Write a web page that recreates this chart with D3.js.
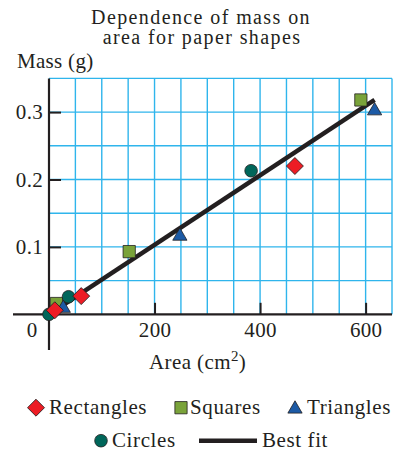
<!DOCTYPE html>
<html>
<head>
<meta charset="utf-8">
<script src="https://cdn.jsdelivr.net/npm/d3@7"></script>
<style>
  body { margin: 0; background: #fff; }
  svg { display: block; }
  text { font-family: "Liberation Serif", "Times New Roman", serif; fill: #231f20; }
</style>
</head>
<body>
<div id="chart"></div>
<script>
// data (area in cm^2, mass in g)
const rectArea = [11, 61, 466];
const rectMass = [0.006, 0.027, 0.220];
const squareArea = [14, 152, 591];
const squareMass = [0.016, 0.093, 0.318];
const triArea = [27, 248, 617];
const triMass = [0.009, 0.116, 0.302];
const circleArea = [0, 37, 383];
const circleMass = [0.000, 0.026, 0.213];
const fitArea = [0, 617];
const fitMass = [0, 0.318];

const xTicks = [200, 400, 600];
const yTicks = [0.1, 0.2, 0.3];

const width = 394, height = 451;
const ink = '#231f20';

const svg = d3.select('#chart')
  .append('svg')
  .attr('width', width)
  .attr('height', height);

const x = d3.scaleLinear().domain([0, 650]).range([49, 392]);
const y = d3.scaleLinear().domain([0, 0.35]).range([314.3, 78.4]);

// blue grid paper
const grid = svg.append('g').attr('stroke', '#2fb5ec').attr('stroke-width', 1.4);
grid.selectAll('.vx')
  .data(d3.range(50, 651, 50))
  .enter().append('line')
  .attr('x1', d => x(d)).attr('x2', d => x(d))
  .attr('y1', y(0)).attr('y2', y(0.35));
grid.selectAll('.hy')
  .data(d3.range(1, 8).map(i => i * 0.05))
  .enter().append('line')
  .attr('x1', x(0)).attr('x2', x(650))
  .attr('y1', d => y(d)).attr('y2', d => y(d));

// axes lines (they cross and overshoot at the origin)
svg.append('line')
  .attr('x1', x(0)).attr('x2', x(0))
  .attr('y1', y(0.35)).attr('y2', 350)
  .attr('stroke', ink).attr('stroke-width', 2.2);
svg.append('line')
  .attr('x1', 13).attr('x2', x(650))
  .attr('y1', y(0)).attr('y2', y(0))
  .attr('stroke', ink).attr('stroke-width', 2.2);

// y ticks point inward
const yAxis = svg.append('g')
  .attr('transform', `translate(${x(0)},0)`)
  .call(d3.axisLeft(y).tickValues(yTicks).tickSize(-12).tickPadding(6).tickFormat(d3.format('.1f')));
yAxis.select('.domain').remove();
yAxis.selectAll('line').attr('stroke', ink).attr('stroke-width', 2);
yAxis.selectAll('text').attr('font-size', 21).attr('letter-spacing', 0.3);

const xAxis = svg.append('g')
  .attr('transform', `translate(0,${y(0)})`)
  .call(d3.axisBottom(x).tickValues(xTicks).tickSize(-11.5).tickPadding(8));
xAxis.select('.domain').remove();
xAxis.selectAll('line').attr('stroke', ink).attr('stroke-width', 2);
xAxis.selectAll('text').attr('font-size', 21).attr('letter-spacing', 0.3);

// shared origin label
svg.append('text')
  .attr('x', 32).attr('y', 337)
  .attr('text-anchor', 'middle')
  .attr('font-size', 21)
  .text('0');

// best fit line
const line = d3.line().x(d => x(d[0])).y(d => y(d[1]));
svg.append('path')
  .datum(d3.zip(fitArea, fitMass))
  .attr('d', line)
  .attr('fill', 'none')
  .attr('stroke', ink)
  .attr('stroke-width', 4.5);

// markers
const sym = (type, size) => d3.symbol().type(type).size(size)();
const series = [
  { xs: squareArea, ys: squareMass, path: sym(d3.symbolSquare, 150), fill: '#7aa33a', rot: 0 },
  { xs: triArea, ys: triMass, path: sym(d3.symbolTriangle, 88), fill: '#1c5aa5', rot: 0 },
  { xs: circleArea, ys: circleMass, path: sym(d3.symbolCircle, 125), fill: '#00665a', rot: 0 },
  { xs: rectArea, ys: rectMass, path: sym(d3.symbolSquare, 144), fill: '#ed1c24', rot: 45 }
];
series.forEach(s => {
  svg.append('g').selectAll('path')
    .data(d3.zip(s.xs, s.ys))
    .enter().append('path')
    .attr('d', s.path)
    .attr('transform', d => `translate(${x(d[0])},${y(d[1])}) rotate(${s.rot})`)
    .attr('fill', s.fill)
    .attr('stroke', ink)
    .attr('stroke-width', 0.8);
});

// titles
svg.append('text')
  .attr('x', 201).attr('y', 24)
  .attr('text-anchor', 'middle')
  .attr('font-size', 20).attr('letter-spacing', 1.4)
  .text('Dependence of mass on');
svg.append('text')
  .attr('x', 202).attr('y', 44)
  .attr('text-anchor', 'middle')
  .attr('font-size', 20).attr('letter-spacing', 1.4)
  .text('area for paper shapes');
svg.append('text')
  .attr('x', 17).attr('y', 68)
  .attr('font-size', 21).attr('letter-spacing', 0.3)
  .text('Mass (g)');
const xl = svg.append('text')
  .attr('x', 149).attr('y', 369)
  .attr('font-size', 21).attr('letter-spacing', 0.4)
  .text('Area (cm');
xl.append('tspan').attr('dy', -8).attr('font-size', 15).text('2');
xl.append('tspan').attr('dy', 8).text(')');

// legend
const legend = svg.append('g');
const legendItems = [
  { label: 'Rectangles', path: sym(d3.symbolSquare, 144), fill: '#ed1c24', rot: 45, mx: 36, tx: 49, my: 407.7, ty: 414 },
  { label: 'Squares', path: sym(d3.symbolSquare, 150), fill: '#7aa33a', rot: 0, mx: 181, tx: 190, my: 407.7, ty: 414 },
  { label: 'Triangles', path: sym(d3.symbolTriangle, 88), fill: '#1c5aa5', rot: 0, mx: 295, tx: 307, my: 409, ty: 414 },
  { label: 'Circles', path: sym(d3.symbolCircle, 125), fill: '#00665a', rot: 0, mx: 101, tx: 112, my: 440.7, ty: 446.5 }
];
legendItems.forEach(it => {
  legend.append('path')
    .attr('d', it.path)
    .attr('transform', `translate(${it.mx},${it.my}) rotate(${it.rot})`)
    .attr('fill', it.fill)
    .attr('stroke', ink)
    .attr('stroke-width', 0.8);
  legend.append('text')
    .attr('x', it.tx).attr('y', it.ty)
    .attr('font-size', 21).attr('letter-spacing', 0.6)
    .text(it.label);
});
legend.append('line')
  .attr('x1', 199).attr('x2', 257)
  .attr('y1', 440.7).attr('y2', 440.7)
  .attr('stroke', ink).attr('stroke-width', 4.5);
legend.append('text')
  .attr('x', 262).attr('y', 446.5)
  .attr('font-size', 21).attr('letter-spacing', 0.6)
  .text('Best fit');
</script>
</body>
</html>
